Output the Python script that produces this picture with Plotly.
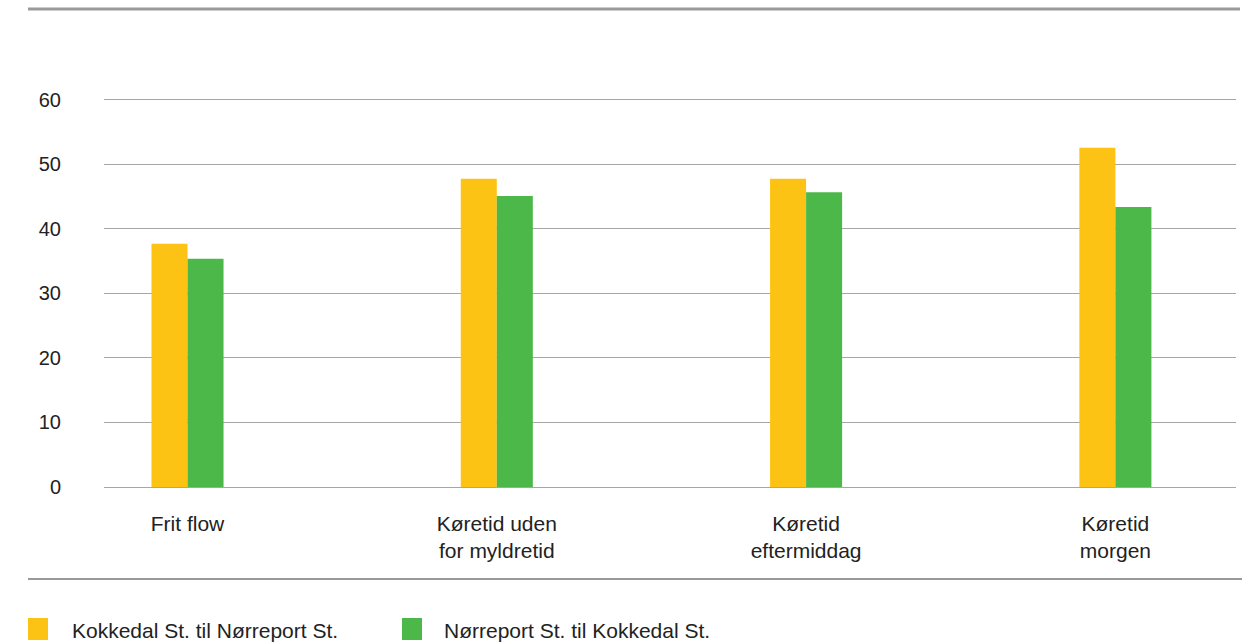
import plotly.graph_objects as go

categories = ["Frit flow", "Køretid uden<br>for myldretid", "Køretid<br>eftermiddag", "Køretid<br>morgen"]
series_names = ["Kokkedal St. til Nørreport St.", "Nørreport St. til Kokkedal St."]
kokkedal_to_norreport = [37.7, 47.8, 47.8, 52.6]
norreport_to_kokkedal = [35.4, 45.1, 45.7, 43.4]
y_ticks = [0, 10, 20, 30, 40, 50, 60]
colors = ["#FDC314", "#4DB84A"]

W, H = 1242, 644
L, R, T, B = 104, 6, 98, 157
pw = W - L - R
ph = H - T - B

fig = go.Figure()
for name, vals, c in zip(series_names, [kokkedal_to_norreport, norreport_to_kokkedal], colors):
    fig.add_trace(go.Bar(x=categories, y=vals, name=name, marker=dict(color=c, line=dict(width=0)),
                         showlegend=False, hoverinfo="y"))

font_family = "Liberation Sans, Arial, sans-serif"
txt_col = "#222222"

def px_x(px):
    return (px - L) / pw

def px_y(py):
    return 1 - (py - T) / ph

shapes = [
    dict(type="line", xref="paper", yref="paper", x0=px_x(28), x1=px_x(1240), y0=px_y(9), y1=px_y(9),
         line=dict(color="#9A9A9A", width=3)),
    dict(type="line", xref="paper", yref="paper", x0=px_x(28), x1=px_x(1242), y0=px_y(579), y1=px_y(579),
         line=dict(color="#777777", width=1.5)),
]
annotations = []
legend_pos = [(28, 70), (402, 442)]
for (sx, tx), name, c in zip(legend_pos, series_names, colors):
    shapes.append(dict(type="rect", xref="paper", yref="paper", x0=px_x(sx), x1=px_x(sx + 20),
                       y0=px_y(640), y1=px_y(618), fillcolor=c, line=dict(width=0)))
    annotations.append(dict(xref="paper", yref="paper", x=px_x(tx), y=px_y(630), text=name,
                            showarrow=False, xanchor="left", yanchor="middle",
                            font=dict(size=21, color=txt_col, family=font_family)))

fig.update_layout(
    width=W, height=H,
    margin=dict(l=L, r=R, t=T, b=B),
    paper_bgcolor="white", plot_bgcolor="white",
    barmode="group", bargap=0.767, bargroupgap=0,
    font=dict(family=font_family, size=20, color=txt_col),
    shapes=shapes, annotations=annotations,
    xaxis=dict(type="category", range=[-0.27, 3.39], showgrid=False, showline=False, zeroline=False,
               ticks="", ticklabelstandoff=22, tickfont=dict(size=21, color=txt_col)),
    yaxis=dict(range=[0, 60.3], tickvals=y_ticks, showgrid=True, gridcolor="#A6A6A6", gridwidth=1.3,
               zeroline=True, zerolinecolor="#A6A6A6", zerolinewidth=1.3, showline=False,
               ticks="", ticklabelstandoff=42, tickfont=dict(size=20, color=txt_col)),
)

fig.write_html("out.html")
